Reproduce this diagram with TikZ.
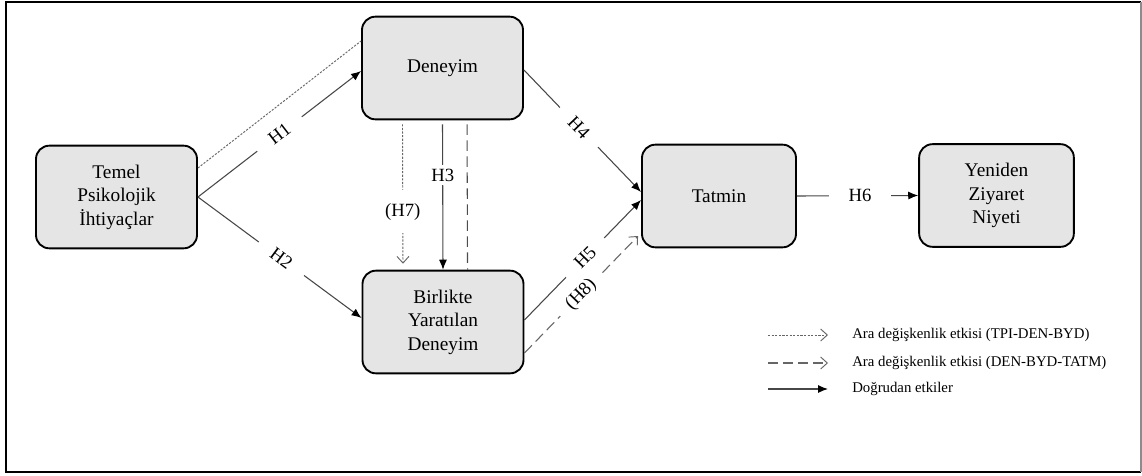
\documentclass[tikz,border=0pt]{standalone}
\usepackage{fontspec}
\setmainfont{Liberation Serif}
\newfontfamily\timesface{Liberation Serif}
\usetikzlibrary{arrows.meta}
\begin{document}
\begin{tikzpicture}[x=0.75pt,y=-0.75pt,
  box/.style={draw=black, line width=1.4pt, fill=black!10, rounded corners=10pt,
    minimum width=120.75pt, minimum height=77pt, align=center, inner sep=2pt,
    font=\timesface\fontsize{14.5}{17.6}\selectfont},
  conn/.style={draw=black!72, line width=0.8pt},
  direct/.style={conn, -{Latex[length=7.5pt,width=6pt,black]}},
  medA/.style={conn, draw=black!60, line width=0.7pt, dash pattern=on 1.6pt off 1.1pt},
  medB/.style={conn, draw=black!70, dash pattern=on 8pt off 4pt},
  openhead/.style={-{Straight Barb[length=5pt,width=9pt,line width=0.7pt]}},
  gap/.style={fill=white, inner sep=0pt, minimum height=13pt},
  lbl/.style={inner sep=0pt, font=\timesface\fontsize{14}{16}\selectfont},
  legtext/.style={anchor=west, inner sep=0pt, font=\timesface\fontsize{11.1}{13}\selectfont}
]
% page area and frame
\useasboundingbox (0,0) rectangle (1142,475);
\fill[white] (0,0) rectangle (1142,475);
\draw[line width=1.6pt] (1141,2) -- (6,2) -- (6,472) -- (1141,472);
\draw[black!45, line width=0.8pt] (1141,2) -- (1141,472);

% constructs
\node[box] (tpi) at (116.5,197) {Temel\\Psikolojik\\İhtiyaçlar};
\node[box] (den) at (442.5,68) {Deneyim};
\node[box] (byd) at (443,322) {Birlikte\\Yaratılan\\Deneyim};
\node[box, minimum width=115.5pt] (tat) at (719,196) {Tatmin};
\node[box, minimum width=116pt] (yzn) at (996.5,195.5) {Yeniden\\Ziyaret\\Niyeti};

% mediation paths
\draw[medA] ([yshift=21.75pt]tpi.east) -- ([yshift=20.25pt]den.west);
\draw[medA, openhead, shorten >=4.5pt] ([xshift=-30pt,yshift=-3pt]den.south) --
  node[gap, pos=0.6, minimum width=6pt, minimum height=32pt] {}
  node[lbl, pos=0.6] (h7) {(H7)}
  ([xshift=-30pt]byd.north);
\draw[medB] ([xshift=18.4pt,yshift=-3pt]den.south) -- ([xshift=18.4pt]byd.north);
\draw[medB, draw=black!60, openhead] ([yshift=-23.25pt]byd.east) --
  node[gap, sloped, pos=0.5, minimum width=45pt] {}
  node[lbl, sloped, pos=0.5] (h8) {(H8)}
  ([xshift=-2.25pt,yshift=-30pt]tat.west);

% direct effects
\draw[direct] (tpi.east) --
  node[gap, sloped, pos=0.5, minimum width=42pt] {}
  node[lbl, sloped, pos=0.5] (h1) {H1}
  ([yshift=-2.25pt]den.west);
\draw[direct] (tpi.east) --
  node[gap, sloped, pos=0.51, minimum width=42pt] {}
  node[lbl, sloped, pos=0.51] (h2) {H2}
  ([yshift=3pt]byd.west);
\draw[direct] ([yshift=-3pt]den.south) --
  node[gap, pos=0.35, minimum width=6pt, minimum height=15pt] {}
  node[lbl, pos=0.35] (h3) {H3}
  (byd.north);
\draw[direct] ([yshift=-1.5pt]den.east) --
  node[gap, sloped, pos=0.47, minimum width=41pt] {}
  node[lbl, sloped, pos=0.47] (h4) {H4}
  ([yshift=3pt]tat.west);
\draw[direct] ([yshift=1.5pt]byd.east) --
  node[gap, sloped, pos=0.52, minimum width=41pt] {}
  node[lbl, sloped, pos=0.52] (h5) {H5}
  ([yshift=-3pt]tat.west);
\draw[direct] (tat.east) --
  node[gap, pos=0.52, minimum width=47pt] {}
  node[lbl, pos=0.52] (h6) {H6}
  (yzn.west);

% legend
\coordinate (la1) at (768,335); \coordinate (lb1) at (828,335);
\coordinate (la2) at (768,363); \coordinate (lb2) at (828,363);
\coordinate (la3) at (768,389); \coordinate (lb3) at (828,389);
\draw[medA, openhead] (la1) -- (lb1);
\draw[medB, draw=black!60, dash pattern=on 7.5pt off 3.75pt, openhead] (la2) -- (lb2);
\draw[direct] (la3) -- (lb3);
\node[legtext] (lt1) at (852,335) {Ara değişkenlik etkisi (TPI-DEN-BYD)};
\node[legtext] (lt2) at (852,363) {Ara değişkenlik etkisi (DEN-BYD-TATM)};
\node[legtext] (lt3) at (852,389) {Doğrudan etkiler};
\end{tikzpicture}
\end{document}
